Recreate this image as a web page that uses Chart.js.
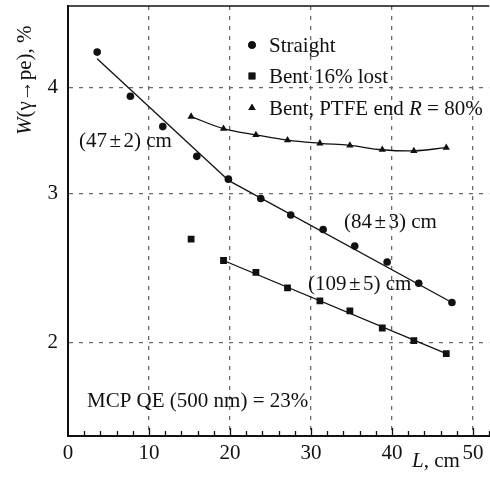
<!DOCTYPE html>
<html>
<head>
<meta charset="utf-8">
<script src="https://cdn.jsdelivr.net/npm/chart.js@4"></script>
<style>
  html, body { margin: 0; padding: 0; background: #fff; overflow: hidden; }
  #wrap { width: 494px; height: 481px; }
</style>
</head>
<body>
<div id="wrap"><canvas id="c"></canvas></div>
<script>
// measured points, L in cm, W in %
const straightL = [3.6, 7.7, 11.7, 15.9, 19.8, 23.8, 27.5, 31.5, 35.4, 39.4, 43.3, 47.4];
const straightW = [4.41, 3.91, 3.60, 3.32, 3.12, 2.96, 2.83, 2.72, 2.60, 2.49, 2.35, 2.23];
const bentL = [15.2, 19.2, 23.2, 27.1, 31.1, 34.8, 38.8, 42.7, 46.7];
const bentW = [2.65, 2.50, 2.42, 2.32, 2.24, 2.18, 2.08, 2.01, 1.94];
const ptfeL = [15.2, 19.2, 23.2, 27.1, 31.1, 34.8, 38.8, 42.7, 46.7];
const ptfeW = [3.70, 3.58, 3.52, 3.47, 3.44, 3.42, 3.38, 3.37, 3.40];

// exponential fits (end points only, straight on log axis)
const fitShortL = [3.6, 19.8];
const fitShortW = [4.33, 3.11];
const fitLongL = [19.8, 47.4];
const fitLongW = [3.11, 2.23];
const fitBentL = [19.2, 46.7];
const fitBentW = [2.50, 1.94];

const xTickLabels = [0, 10, 20, 30, 40, 50];
const yTickLabels = [2, 3, 4];

const FONT = "'Liberation Serif', 'DejaVu Serif', serif";
const FS = 21;

const pts = (xs, ys) => xs.map((x, i) => ({ x: x, y: ys[i] }));

function fitLine(xs, ys) {
  return {
    data: pts(xs, ys),
    showLine: true,
    borderColor: '#111',
    borderWidth: 1.3,
    pointRadius: 0,
    pointHoverRadius: 0
  };
}

// text with italic pieces; a number in parts is extra spacing
function drawRich(ctx, parts, x, y) {
  let cx = x;
  parts.forEach(p => {
    if (typeof p === 'number') { cx += p; return; }
    const [txt, it] = p;
    ctx.font = (it ? 'italic ' : '') + FS + 'px ' + FONT;
    ctx.fillText(txt, cx, y);
    cx += ctx.measureText(txt).width;
  });
}

function noPad(s) {
  s.paddingTop = 0;
  s.paddingBottom = 0;
  s.paddingLeft = 0;
  s.paddingRight = 0;
}

const decor = {
  id: 'decor',
  afterDraw(chart) {
    const { ctx, chartArea: a, scales } = chart;
    const xs = scales.x;
    ctx.save();

    // top frame line
    ctx.strokeStyle = '#111';
    ctx.lineWidth = 1.5;
    ctx.beginPath();
    ctx.moveTo(a.left, a.top);
    ctx.lineTo(a.right, a.top);
    ctx.stroke();

    // ticks on L axis, pointing inward (long at labels, short between)
    ctx.lineWidth = 1.3;
    ctx.beginPath();
    for (let v = 2; v <= 52; v += 2) {
      const len = v % 10 === 0 ? 8 : 5;
      const px = Math.round(xs.getPixelForValue(v)) + 0.5;
      ctx.moveTo(px, a.bottom);
      ctx.lineTo(px, a.bottom - len);
    }
    ctx.stroke();

    ctx.fillStyle = '#111';
    ctx.textBaseline = 'alphabetic';
    ctx.textAlign = 'left';

    // legend
    const H = Chart.helpers;
    const legend = [
      { style: 'circle', r: 3.8, y: 45, parts: [['Straight', false]] },
      { style: 'rect', r: 4.8, y: 76, parts: [['Bent 16% lost', false]] },
      { style: 'triangle', r: 4.2, y: 108, parts: [['Bent, PTFE end ', false], ['R', true], [' = 80%', false]] }
    ];
    legend.forEach(l => {
      H.drawPoint(ctx, { pointStyle: l.style, radius: l.r, rotation: 0, borderWidth: 0 }, 252, l.y);
      ctx.fill();
      drawRich(ctx, l.parts, 269, l.y + 7);
    });

    // fit annotations
    drawRich(ctx, [['(47', false], 2.5, ['\u00b1', false], 2.5, ['2) cm', false]], 79, 147);
    drawRich(ctx, [['(84', false], 2.5, ['\u00b1', false], 2.5, ['3) cm', false]], 344, 228);
    drawRich(ctx, [['(109', false], 2.5, ['\u00b1', false], 2.5, ['5) cm', false]], 308, 290);
    drawRich(ctx, [['MCP QE (500 nm) = 23%', false]], 87, 407);

    // axis titles
    drawRich(ctx, [['L', true], [', cm', false]], 412, 467);
    ctx.translate(31, 135);
    ctx.rotate(-Math.PI / 2);
    drawRich(ctx, [['W', true], ['(\u03b3\u2192pe), %', false]], 0, 0);

    ctx.restore();
  }
};

new Chart(document.getElementById('c'), {
  type: 'scatter',
  data: {
    datasets: [
      {
        label: 'Straight',
        data: pts(straightL, straightW),
        pointStyle: 'circle',
        pointRadius: 3.8,
        backgroundColor: '#111',
        borderWidth: 0
      },
      {
        label: 'Bent 16% lost',
        data: pts(bentL, bentW),
        pointStyle: 'rect',
        pointRadius: 4.8,
        backgroundColor: '#111',
        borderWidth: 0
      },
      {
        label: 'Bent, PTFE end R = 80%',
        data: pts(ptfeL, ptfeW),
        showLine: true,
        tension: 0.4,
        borderColor: '#111',
        borderWidth: 1.3,
        pointStyle: 'triangle',
        pointRadius: 4.2,
        pointBorderWidth: 0,
        pointBackgroundColor: '#111'
      },
      fitLine(fitShortL, fitShortW),
      fitLine(fitLongL, fitLongW),
      fitLine(fitBentL, fitBentW)
    ]
  },
  options: {
    responsive: true,
    maintainAspectRatio: false,
    animation: false,
    layout: { padding: { top: 6, right: 0, left: 0, bottom: 0 } },
    plugins: {
      legend: { display: false },
      tooltip: { enabled: false }
    },
    scales: {
      x: {
        type: 'linear',
        min: 0,
        max: 52,
        afterBuildTicks: s => { s.ticks = xTickLabels.map(v => ({ value: v })); },
        afterFit: s => { s.height = 45; noPad(s); },
        ticks: {
          autoSkip: false,
          maxRotation: 0,
          padding: 5,
          color: '#111',
          font: { family: FONT, size: FS }
        },
        grid: {
          drawTicks: false,
          color: c => (c.tick && c.tick.value > 0 ? '#6a6a6a' : 'rgba(0,0,0,0)'),
          lineWidth: 1.3
        },
        border: { display: true, color: '#111', width: 2, dash: [4, 6] }
      },
      y: {
        type: 'logarithmic',
        min: 1.55,
        max: 5,
        afterBuildTicks: s => { s.ticks = yTickLabels.map(v => ({ value: v })); },
        afterFit: s => { s.width = 68; noPad(s); },
        ticks: {
          padding: 10,
          color: '#111',
          font: { family: FONT, size: FS },
          callback: v => String(v)
        },
        grid: {
          drawTicks: false,
          color: '#6a6a6a',
          lineWidth: 1.3
        },
        border: { display: true, color: '#111', width: 2, dash: [4, 6] }
      }
    }
  },
  plugins: [decor]
});
</script>
</body>
</html>
